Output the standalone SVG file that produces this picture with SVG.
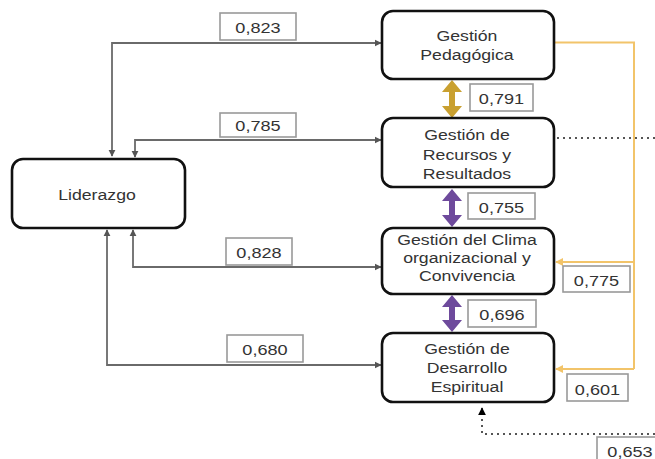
<svg xmlns="http://www.w3.org/2000/svg" width="655" height="459" viewBox="0 0 655 459">
<style>
.node{fill:#fff;stroke:#111;stroke-width:2.6}
.nt{font-family:"Liberation Sans",Arial,sans-serif;font-size:14.5px;fill:#333;text-anchor:middle}
.lb{fill:#fff;stroke:#999;stroke-width:1.6}
.conn{fill:none;stroke:#6a6a6a;stroke-width:1.8}
.gold{fill:none;stroke:#F2C46A;stroke-width:2}
.dot{fill:none;stroke:#555;stroke-width:2;stroke-dasharray:2 4}
</style>
<defs>
<marker id="ag" viewBox="0 0 10 10" refX="9" refY="5" markerWidth="4" markerHeight="4" orient="auto-start-reverse" markerUnits="strokeWidth"><path d="M0,0 L10,5 L0,10 z" fill="#555"/></marker>
<marker id="ay" viewBox="0 0 10 10" refX="9" refY="5" markerWidth="4" markerHeight="4" orient="auto" markerUnits="strokeWidth"><path d="M0,0 L10,5 L0,10 z" fill="#F2C46A"/></marker>
<marker id="ab" viewBox="0 0 10 10" refX="9" refY="5" markerWidth="4" markerHeight="4" orient="auto" markerUnits="strokeWidth"><path d="M0,0 L10,5 L0,10 z" fill="#000"/></marker>
</defs>
<g id="connectors">
<path class="conn" d="M381,43 H112 V156" marker-start="url(#ag)" marker-end="url(#ag)"/>
<path class="conn" d="M381,140 H135 V157" marker-start="url(#ag)" marker-end="url(#ag)"/>
<path class="conn" d="M381,267 H133 V230" marker-start="url(#ag)" marker-end="url(#ag)"/>
<path class="conn" d="M381,365 H107 V230" marker-start="url(#ag)" marker-end="url(#ag)"/>
<path class="gold" d="M554,42.5 H634 V369"/>
<path class="gold" d="M634,262 H556" marker-end="url(#ay)"/>
<path class="gold" d="M634,369 H556" marker-end="url(#ay)"/>
<path class="dot" d="M557,138 H655"/>
<path class="dot" d="M655,434 H482 V408" marker-end="url(#ab)"/>
<polygon fill="#C9A030" points="452,80 462,92 455,92 455,106 462,106 452,118 442,106 449,106 449,92 442,92"/>
<polygon fill="#6E4A9C" points="452,189 462,201 455,201 455,215 462,215 452,227 442,215 449,215 449,201 442,201"/>
<polygon fill="#6E4A9C" points="452,295 462,307 455,307 455,320 462,320 452,332 442,320 449,320 449,307 442,307"/>
</g>
<g id="lab-823"><rect class="lb" x="220" y="13" width="76" height="27"/><text class="nt" transform="translate(258,33) scale(1.25,1)">0,823</text></g>
<g id="lab-785"><rect class="lb" x="220" y="113" width="76" height="24"/><text class="nt" transform="translate(258,131) scale(1.25,1)">0,785</text></g>
<g id="lab-828"><rect class="lb" x="226" y="238" width="66" height="27"/><text class="nt" transform="translate(259,258) scale(1.25,1)">0,828</text></g>
<g id="lab-680"><rect class="lb" x="227" y="335" width="76" height="27"/><text class="nt" transform="translate(265,355) scale(1.25,1)">0,680</text></g>
<g id="lab-791"><rect class="lb" x="470" y="84" width="63" height="27"/><text class="nt" transform="translate(501.5,104) scale(1.25,1)">0,791</text></g>
<g id="lab-755"><rect class="lb" x="468" y="193" width="67" height="26"/><text class="nt" transform="translate(501.5,213) scale(1.25,1)">0,755</text></g>
<g id="lab-775"><rect class="lb" x="563" y="266" width="67" height="26"/><text class="nt" transform="translate(596.5,286) scale(1.25,1)">0,775</text></g>
<g id="lab-696"><rect class="lb" x="468" y="300" width="68" height="27"/><text class="nt" transform="translate(502,320) scale(1.25,1)">0,696</text></g>
<g id="lab-601"><rect class="lb" x="567" y="374" width="61" height="27"/><text class="nt" transform="translate(597.5,395) scale(1.25,1)">0,601</text></g>
<g id="lab-653"><rect class="lb" x="597" y="437" width="70" height="30"/><text class="nt" transform="translate(630,457) scale(1.25,1)">0,653</text></g>
<g id="liderazgo"><rect class="node" x="12" y="159" width="173" height="69" rx="11"/><text class="nt" transform="translate(97,200) scale(1.22,1)">Liderazgo</text></g>
<g id="pedagogica"><rect class="node" x="382" y="11" width="172" height="68" rx="11"/><text class="nt" transform="translate(467,41) scale(1.22,1)">Gestión</text><text class="nt" transform="translate(467,60) scale(1.22,1)">Pedagógica</text></g>
<g id="recursos"><rect class="node" x="382" y="118" width="172" height="69" rx="11"/><text class="nt" transform="translate(467,140) scale(1.22,1)">Gestión de</text><text class="nt" transform="translate(467,160) scale(1.22,1)">Recursos y</text><text class="nt" transform="translate(467,179) scale(1.22,1)">Resultados</text></g>
<g id="clima"><rect class="node" x="382" y="228" width="172" height="66" rx="11"/><text class="nt" transform="translate(467,245) scale(1.22,1)">Gestión del Clima</text><text class="nt" transform="translate(467,263) scale(1.22,1)">organizacional y</text><text class="nt" transform="translate(467,281) scale(1.22,1)">Convivencia</text></g>
<g id="espiritual"><rect class="node" x="382" y="333" width="172" height="69" rx="11"/><text class="nt" transform="translate(467,354) scale(1.22,1)">Gestión de</text><text class="nt" transform="translate(467,373) scale(1.22,1)">Desarrollo</text><text class="nt" transform="translate(467,392) scale(1.22,1)">Espiritual</text></g>
</svg>
